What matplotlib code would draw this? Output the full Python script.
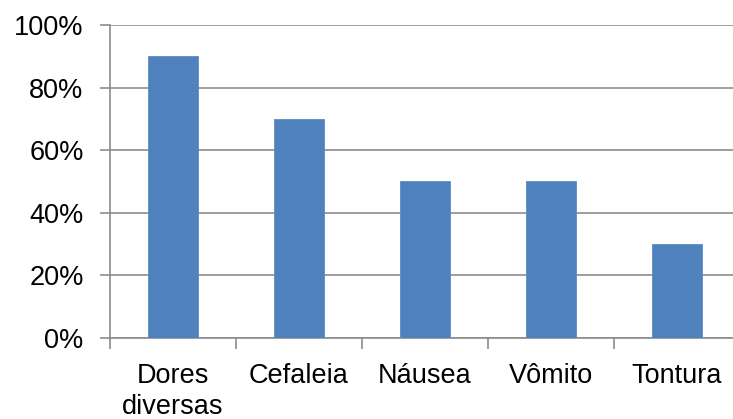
import matplotlib
matplotlib.use("Agg")
import matplotlib.pyplot as plt
from matplotlib.ticker import FuncFormatter

# Data
categories = ["Dores\ndiversas", "Cefaleia", "Náusea", "Vômito", "Tontura"]
values = [90, 70, 50, 50, 30]
y_ticks = [0, 20, 40, 60, 80, 100]

plt.rcParams["font.family"] = ["Liberation Sans", "DejaVu Sans"]
FS = 19.5

W, H = 733, 419
fig = plt.figure(figsize=(W / 100, H / 100), dpi=100)
# plot area: x 110..740 px, y 25..338 px (right side runs past the image edge)
ax = fig.add_axes([110 / W, (H - 338) / H, 630 / W, 313 / H])

x = list(range(len(categories)))
ax.bar(x, values, width=0.4, color="#4F81BD", edgecolor="#5b8cc6", linewidth=0.6, zorder=3)

ax.set_xlim(-0.5, len(categories) - 0.5)
ax.set_ylim(0, 100)
ax.set_yticks(y_ticks)
ax.yaxis.set_major_formatter(FuncFormatter(lambda v, p: f"{int(v)}%"))
ax.grid(axis="y", color="#8c8c8c", linewidth=1.2, zorder=0)

# category labels between boundary ticks
ax.set_xticks([i + 0.5 for i in range(-1, len(categories))])
ax.set_xticklabels([])
ax.set_xticks(x, minor=True)
ax.set_xticklabels(categories, minor=True, fontsize=FS, linespacing=1.25)
ax.tick_params(axis="x", which="minor", length=0, pad=18)
ax.tick_params(axis="x", which="major", length=8, width=1.2, color="#8c8c8c", direction="out")
ax.tick_params(axis="y", length=7, width=1.2, color="#8c8c8c", labelsize=FS, pad=12)

for s in ["top", "right"]:
    ax.spines[s].set_visible(False)
for s in ["left", "bottom"]:
    ax.spines[s].set_color("#8c8c8c")
    ax.spines[s].set_linewidth(1.2)

fig.savefig("out.png", dpi=100)
